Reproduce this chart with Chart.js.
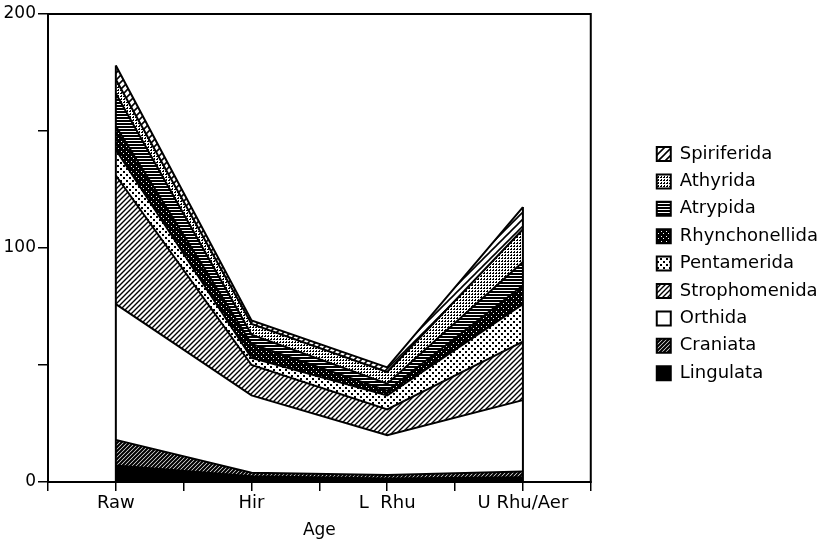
<!DOCTYPE html>
<html>
<head>
<meta charset="utf-8">
<script src="https://cdn.jsdelivr.net/npm/chart.js@4"></script>
<style>
  html, body { margin: 0; padding: 0; background: #fff; }
  #wrap { width: 828px; height: 543px; }
</style>
</head>
<body>
<div id="wrap"><canvas id="myChart" width="828" height="543"></canvas></div>
<script>
// categories (x axis) and series values
const ages = ['Raw', 'Hir', 'L  Rhu', 'U Rhu/Aer'];
const lingulata      = [7, 2.5, 1.5, 2];
const craniata       = [11, 1.5, 1.5, 2.5];
const orthida        = [58, 33, 17, 30.5];
const strophomenida  = [55, 13, 11, 25];
const pentamerida    = [11, 3, 6, 16];
const rhynchonellida = [10, 6, 2, 8];
const atrypida       = [14, 4, 3, 10];
const athyrida       = [6, 4.5, 5, 14];
const spiriferida    = [6, 1.5, 2, 9.5];
const yTicks = [0, 100, 200];

const FONT = 'DejaVu Sans';

// little pattern tiles for the black & white fills
function makePattern(size, bg, draw) {
    const c = document.createElement('canvas');
    c.width = c.height = size;
    const g = c.getContext('2d');
    g.fillStyle = bg;
    g.fillRect(0, 0, size, size);
    g.fillStyle = '#000';
    g.strokeStyle = '#000';
    draw(g, size);
    return g.createPattern(c, 'repeat');
}
function diag(g, s, w) {
    g.lineWidth = w;
    g.beginPath();
    g.moveTo(-1, s + 1); g.lineTo(s + 1, -1);
    g.moveTo(-1, 1); g.lineTo(1, -1);
    g.moveTo(s - 1, s + 1); g.lineTo(s + 1, s - 1);
    g.stroke();
}

const pats = {
    lingulata: '#000',
    craniata: makePattern(4, '#fff', (g, s) => diag(g, s, 2.2)),
    orthida: '#fff',
    strophomenida: makePattern(5, '#fff', (g, s) => diag(g, s, 1.4)),
    pentamerida: makePattern(6, '#fff', (g, s) => {
        g.fillRect(0, 0, 2, 2);
        g.fillRect(3, 3, 2, 2);
    }),
    rhynchonellida: makePattern(5, '#000', (g, s) => {
        g.fillStyle = '#fff';
        g.fillRect(1, 1, 1, 1);
        g.fillRect(3, 3, 1, 1);
    }),
    atrypida: makePattern(3, '#fff', (g, s) => {
        g.fillRect(0, 0, s, 2);
    }),
    athyrida: makePattern(3, '#fff', (g, s) => {
        g.fillRect(0, 0, 2, 1);
        g.fillRect(1, 2, 1, 1);
    }),
    spiriferida: makePattern(7, '#fff', (g, s) => diag(g, s, 1.6))
};

function series(label, values, fill, fillMode) {
    return {
        label: label,
        data: values.map((v, i) => ({ x: 2 * i + 1, y: v })),
        backgroundColor: fill,
        borderColor: '#000',
        borderWidth: 2,
        pointRadius: 0,
        tension: 0,
        fill: fillMode,
        yAxisID: 'y'
    };
}

// frame round the plot area, plus the vertical ends of the stack
const framePlugin = {
    id: 'frame',
    afterDatasetsDraw(chart) {
        const { ctx, chartArea: a, scales } = chart;
        ctx.save();
        ctx.strokeStyle = '#000';
        const top = chart.getDatasetMeta(chart.data.datasets.length - 1).data;
        const y0 = scales.y.getPixelForValue(0);
        ctx.lineWidth = 2;
        [top[0], top[top.length - 1]].forEach(p => {
            ctx.beginPath();
            ctx.moveTo(p.x, y0);
            ctx.lineTo(p.x, p.y);
            ctx.stroke();
        });
        ctx.strokeRect(a.left, a.top, a.right - a.left, a.bottom - a.top);
        ctx.restore();
    }
};

const ctx = document.getElementById('myChart').getContext('2d');
const myChart = new Chart(ctx, {
    type: 'line',
    data: {
        datasets: [
            series('Lingulata', lingulata, pats.lingulata, 'origin'),
            series('Craniata', craniata, pats.craniata, '-1'),
            series('Orthida', orthida, pats.orthida, '-1'),
            series('Strophomenida', strophomenida, pats.strophomenida, '-1'),
            series('Pentamerida', pentamerida, pats.pentamerida, '-1'),
            series('Rhynchonellida', rhynchonellida, pats.rhynchonellida, '-1'),
            series('Atrypida', atrypida, pats.atrypida, '-1'),
            series('Athyrida', athyrida, pats.athyrida, '-1'),
            series('Spiriferida', spiriferida, pats.spiriferida, '-1')
        ]
    },
    options: {
        responsive: false,
        animation: false,
        layout: { padding: { top: 14, right: 0, bottom: 0, left: 0 } },
        plugins: {
            tooltip: { enabled: false },
            legend: {
                position: 'right',
                align: 'start',
                reverse: true,
                maxWidth: 400,
                title: { display: true, text: ' ', font: { size: 10 }, padding: { top: 109.6, bottom: 0 } },
                labels: {
                    color: '#000',
                    font: { family: FONT, size: 18 },
                    boxWidth: 14,
                    boxHeight: 14,
                    padding: 9.4
                }
            }
        },
        scales: {
            x: {
                type: 'linear',
                min: 0,
                max: 8,
                afterFit: s => { s.height = 61; },
                afterBuildTicks: s => { s.ticks = [0, 1, 2, 3, 4, 5, 6, 7, 8].map(v => ({ value: v })); },
                ticks: {
                    autoSkip: false,
                    maxRotation: 0,
                    color: '#000',
                    padding: 2,
                    font: { family: FONT, size: 18 },
                    callback: v => (v % 2 === 1 ? ages[(v - 1) / 2] : '')
                },
                grid: { drawOnChartArea: false, color: '#000', lineWidth: 1.5, tickLength: 9 },
                border: { color: '#000', width: 2 },
                title: { display: true, text: 'Age', color: '#000', font: { family: FONT, size: 17 }, padding: { top: 0, bottom: 2 } }
            },
            y: {
                stacked: true,
                min: 0,
                max: 200,
                afterFit: s => { s.width = 48; },
                afterBuildTicks: s => { s.ticks = [0, 50, 100, 150, 200].map(v => ({ value: v })); },
                ticks: {
                    color: '#000',
                    padding: 2,
                    font: { family: FONT, size: 17 },
                    callback: v => (yTicks.includes(v) ? v : '')
                },
                grid: { drawOnChartArea: false, color: '#000', lineWidth: 1.5, tickLength: 10 },
                border: { color: '#000', width: 2 }
            },
            y2: {
                position: 'right',
                min: 0,
                max: 200,
                afterFit: s => { s.width = 56.6; },
                ticks: { display: false },
                grid: { display: false },
                border: { display: false }
            }
        }
    },
    plugins: [framePlugin]
});
</script>
</body>
</html>
